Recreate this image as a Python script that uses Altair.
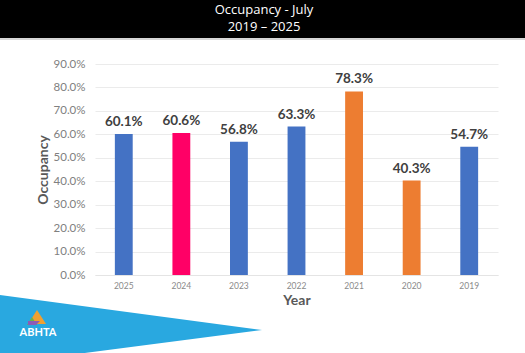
import altair as alt
import pandas as pd

# ---- chart data ----
years = ["2025", "2024", "2023", "2022", "2021", "2020", "2019"]
occupancy = [0.601, 0.606, 0.568, 0.633, 0.783, 0.403, 0.547]
bar_colors = ["#4472C4", "#FF0066", "#4472C4", "#4472C4", "#ED7D31", "#ED7D31", "#4472C4"]
y_ticks = [0.0, 0.1, 0.2, 0.3, 0.4, 0.5, 0.6, 0.7, 0.8, 0.9]

title_line1 = "Occupancy  - July"
title_line2 = "2019 \u2013 2025"
logo_text = "ABHTA"

df = pd.DataFrame({"Year": years, "Occupancy": occupancy, "color": bar_colors})

W, H = 403, 211
PAD_L, PAD_T, PAD_R, PAD_B = 95, 64, 27, 78
FULL_W = W + PAD_L + PAD_R

base = alt.Chart(df).encode(
    x=alt.X("Year:N", sort=years,
            scale=alt.Scale(paddingInner=0.69, paddingOuter=0.345),
            axis=alt.Axis(title="Year", labelFontSize=8.5, labelColor="#8a8a8a",
                          labelFont="Lato", labelAngle=0, labelPadding=6, ticks=False,
                          grid=False, domain=True,
                          domainColor="#e4e4e4", titleFont="Lato", titleFontSize=14,
                          titleFontWeight="bold", titleColor="#595959", titlePadding=4)),
    y=alt.Y("Occupancy:Q", scale=alt.Scale(domain=[0, 0.9], nice=False),
            axis=alt.Axis(title="Occupancy", format=".1%", values=y_ticks,
                          labelFontSize=11.5, labelColor="#808080", labelFont="Lato",
                          labelPadding=10, ticks=False, domain=False, grid=True,
                          gridColor="#ebebeb", titleFont="Lato", titleFontSize=14,
                          titleFontWeight="bold", titleColor="#595959", titlePadding=3)),
)

bars = base.mark_bar().encode(color=alt.Color("color:N", scale=None, legend=None))
labels = base.mark_text(dy=-5, baseline="bottom", font="Lato", fontSize=13.5,
                        fontWeight="bold", color="#404040").encode(
    text=alt.Text("Occupancy:Q", format=".1%"))

# ---- decorations (header band, titles, blue banner, logo) ----
deco = alt.Chart(pd.DataFrame({"k": [0]}))
header = deco.mark_rect(color="black").encode(
    x=alt.value(-PAD_L), x2=alt.value(FULL_W - PAD_L), y=alt.value(-PAD_T), y2=alt.value(-26))
header_line = deco.mark_rule(color="#b0b0b0", strokeWidth=1).encode(
    x=alt.value(-PAD_L), x2=alt.value(FULL_W - PAD_L), y=alt.value(-25))
t1 = deco.mark_text(text=title_line1, color="white", font="Open Sans", fontSize=13,
                    align="center", baseline="middle").encode(
    x=alt.value(264 - PAD_L), y=alt.value(9.5 - PAD_T))
t2 = deco.mark_text(text=title_line2, color="white", font="Open Sans", fontSize=13,
                    align="center", baseline="middle").encode(
    x=alt.value(264 - PAD_L), y=alt.value(26.5 - PAD_T))

# custom symbol path: with size=4 the path units are pixels
banner = deco.mark_point(shape="M0,0 L262,35 L0,69 Z", size=4, filled=True,
                         color="#29A8E0", opacity=1, strokeWidth=0).encode(
    x=alt.value(-PAD_L), y=alt.value(295 - PAD_T))
logo_a = deco.mark_point(shape="M0,14 L9,0 L18,14 Z", size=4, filled=True,
                         color="#F0A030", opacity=1, strokeWidth=0).encode(
    x=alt.value(28 - PAD_L), y=alt.value(310 - PAD_T))
logo_b = deco.mark_point(shape="M0,14 L5,6 L10,14 Z", size=4, filled=True,
                         color="#6BB24A", opacity=1, strokeWidth=0).encode(
    x=alt.value(27 - PAD_L), y=alt.value(311 - PAD_T))
logo_c = deco.mark_point(shape="M0,6 L12,6 L8,10 L0,10 Z", size=4, filled=True,
                         color="#8E5BB5", opacity=1, strokeWidth=0).encode(
    x=alt.value(28 - PAD_L), y=alt.value(315 - PAD_T))
logo_txt = deco.mark_text(text=logo_text, color="white", font="Lato", fontSize=11,
                          fontWeight="bold", align="center", baseline="middle").encode(
    x=alt.value(38 - PAD_L), y=alt.value(333 - PAD_T))

chart = alt.layer(bars, labels, header, header_line, t1, t2, banner,
                  logo_a, logo_b, logo_c, logo_txt).properties(
    width=W, height=H,
    background="white",
    autosize=alt.AutoSizeParams(type="none"),
    padding={"left": PAD_L, "top": PAD_T, "right": PAD_R, "bottom": PAD_B},
).configure_view(stroke=None)

chart.save("out.html", embed_options={"renderer": "svg", "actions": False})
